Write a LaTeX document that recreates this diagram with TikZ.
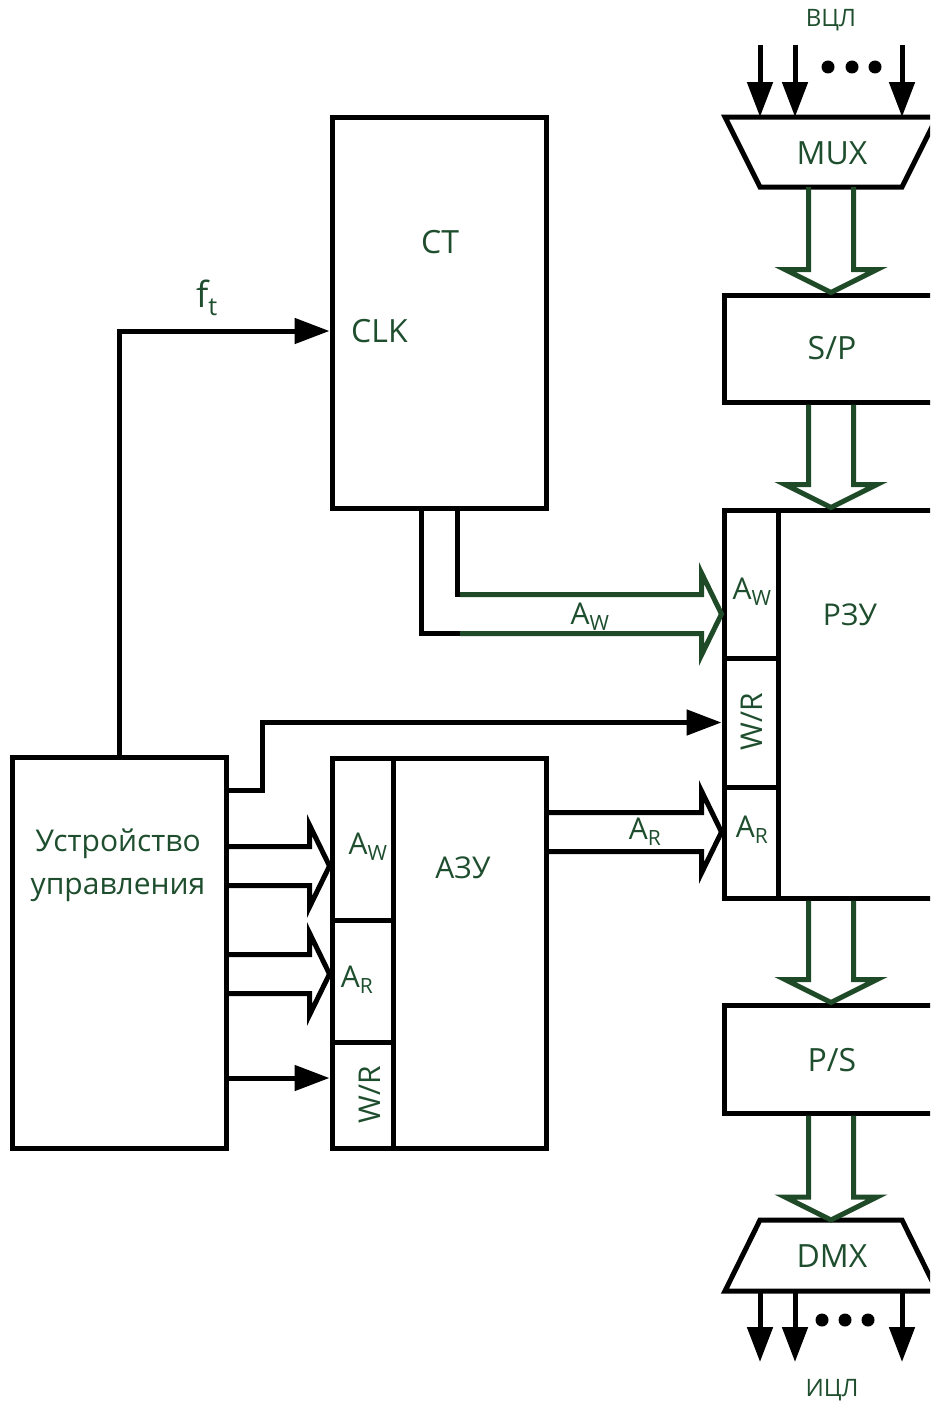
\documentclass[tikz,border=0pt]{standalone}
\usepackage{fontspec}
\setmainfont{Open Sans}
\usetikzlibrary{arrows.meta,calc}
\definecolor{LabelGreen}{RGB}{30,78,46}
\definecolor{BusGreen}{RGB}{30,74,40}

% wide bus arrows (two lines and an open head)
\newcommand\vbus[3]{%
  \draw[bus,draw=#3] let \p1=(#1), \p2=(#2) in
    (\x2-22.5,\y1) -- (\x2-22.5,\y2+23) -- (\x2-46,\y2+23) -- (\p2)
    -- (\x2+46,\y2+23) -- (\x2+22.5,\y2+23) -- (\x2+22.5,\y1);}
\newcommand\hbus[3]{%
  \draw[bus,draw=#3] let \p1=(#1), \p2=(#2) in
    (\x1,\y2+19.5) -- (\x2-20,\y2+19.5) -- (\x2-20,\y2+41) -- (\p2)
    -- (\x2-20,\y2-41) -- (\x2-20,\y2-19.5) -- (\x1,\y2-19.5);}

\begin{document}
\begin{tikzpicture}[x=1pt,y=-1pt,
    blk/.style={draw,line width=5pt,inner sep=0pt,minimum width=214pt},
    txt/.style={text=LabelGreen,font=\fontsize{32}{43}\selectfont,inner sep=0pt},
    small/.style={txt,font=\fontsize{30}{43}\selectfont},
    sig/.style={line width=5pt,-{Triangle[length=35pt,width=25pt]}},
    bus/.style={line width=5pt}
  ]
    \useasboundingbox (0,0) rectangle (930,1405);
    \clip (0,0) rectangle (930,1405);
    % left part
    \node[blk,minimum height=391pt] (ct) at (439,312.5) {};
    \node[txt] (cttxt) at (440,242) {CT};
    \node[txt,anchor=west] (clk) at (351,331) {CLK};
    \node[blk,minimum height=391pt] (cu) at (119,952.5) {};
    \node[small,align=center] (cutxt) at (118,865) {Устройство\\управления};
    \node[blk,minimum height=390pt] (azu) at (439,953) {};
    \node[blk,minimum width=61pt,minimum height=162pt] (azuaw) at (362.5,839) {};
    \node[blk,minimum width=61pt,minimum height=122pt] (azuar) at (362.5,981) {};
    \node[blk,minimum width=61pt,minimum height=106pt] (azuwr) at (362.5,1095) {};
    \node[small] (azutxt) at (463,868) {АЗУ};
    \node[small] (azuawtxt) at (368,847) {A\textsubscript{W}};
    \node[small] (azuartxt) at (357,980) {A\textsubscript{R}};
    \node[small,rotate=90] (azuwrtxt) at (370,1095) {W/R};
    % right part
    \node[blk,minimum height=107pt] (sp) at (831,348.5) {};
    \node[txt] (sptxt) at (832,348) {S/P};
    \node[blk,minimum height=388pt] (rzu) at (831,704) {};
    \node[blk,minimum width=54pt,minimum height=148pt] (rzuaw) at (751,584) {};
    \node[blk,minimum width=54pt,minimum height=129pt] (rzuwr) at (751,722.5) {};
    \node[blk,minimum width=54pt,minimum height=111pt] (rzuar) at (751,842.5) {};
    \node[small] (rzutxt) at (850,615) {РЗУ};
    \node[small] (rzuawtxt) at (752,592) {A\textsubscript{W}};
    \node[small,rotate=90] (rzuwrtxt) at (752,722) {W/R};
    \node[small] (rzuartxt) at (752,830) {A\textsubscript{R}};
    \node[blk,minimum height=108pt] (ps) at (831,1059) {};
    \node[txt] (pstxt) at (832,1060) {P/S};
    % MUX and DMX
    \draw[bus] (725,117) -- (937,117) -- (902,187) -- (760,187) -- cycle;
    \coordinate (muxtop) at (831,117);
    \coordinate (muxbot) at (831,187);
    \node[txt] (mux) at (832,153) {MUX};
    \draw[bus] (760,1220) -- (902,1220) -- (937,1291) -- (725,1291) -- cycle;
    \coordinate (dmxtop) at (831,1220);
    \coordinate (dmxbot) at (831,1291);
    \node[txt] (dmx) at (832,1256) {DMX};
    \node[txt,font=\fontsize{24}{28}\selectfont] (vcl) at (831,20) {ВЦЛ};
    \node[txt,font=\fontsize{24}{28}\selectfont] (icl) at (832,1390) {ИЦЛ};
    \foreach \x in {760,795,902} {
      \coordinate (in\x) at (\x,45);
      \draw[sig] (in\x) -- (in\x |- muxtop);
      \coordinate (out\x) at (\x,1362);
      \draw[sig] (out\x |- dmxbot) -- (out\x);
    }
    \foreach \x in {828,852,875} \fill (\x,67) circle (6.5pt);
    \foreach \x in {822,845,868} \fill (\x,1320) circle (6.5pt);
    % buses of the right column
    \vbus{muxbot}{sp.north}{BusGreen}
    \vbus{sp.south}{rzu.north}{BusGreen}
    \vbus{rzu.south}{ps.north}{BusGreen}
    \vbus{ps.south}{dmxtop}{BusGreen}
    % CT -> RZU address
    \coordinate (awin) at ($(rzuaw.west)+(0,30)$);
    \coordinate (awgo) at ($(ct.south)+(21,0)$);
    \draw[bus] ($(ct.south)+(18,0)$) |- ($(awgo |- awin)+(0,-19.5)$);
    \draw[bus] ($(ct.south)+(-18,0)$) |- ($(awgo |- awin)+(0,19.5)$);
    \hbus{awgo}{awin}{BusGreen}
    \node[small] (awlbl) at (590,617) {A\textsubscript{W}};
    % AZU -> RZU address
    \coordinate (arin) at ($(rzuar.west)+(0,-10.5)$);
    \hbus{azu.east}{arin}{black}
    \node[small] (arlbl) at (645,832) {A\textsubscript{R}};
    % control unit outputs
    \coordinate (azuawin) at ($(azuaw.west)+(0,27)$);
    \coordinate (azuarin) at ($(azuar.west)+(0,-7)$);
    \coordinate (azuwrin) at ($(azuwr.west)+(0,-17)$);
    \hbus{cu.east}{azuawin}{black}
    \hbus{cu.east}{azuarin}{black}
    \draw[sig] (cu.east |- azuwrin) -- (azuwrin);
    \draw[sig] ($(cu.north east)+(0,36)$) -- ++(34,0) |- (rzuwr.west);
    \draw[sig] (cu.north) |- (clk.west -| ct.west);
    \node[txt,font=\fontsize{36}{40}\selectfont] (ft) at (207,298) {f\textsubscript{t}};
  \end{tikzpicture}
\end{document}
